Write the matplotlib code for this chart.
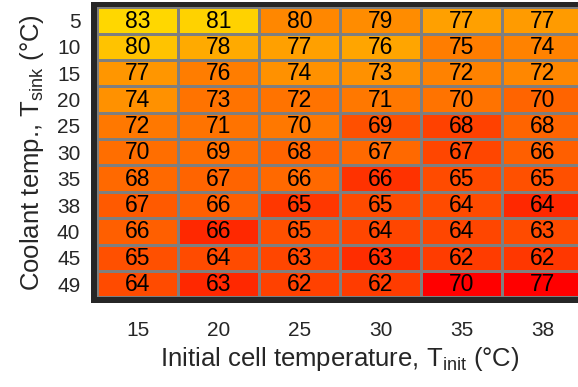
import numpy as np
import matplotlib
matplotlib.use("Agg")
import matplotlib.pyplot as plt

# Axis categories
t_init = ["15", "20", "25", "30", "35", "38"]
t_sink = ["5", "10", "15", "20", "25", "30", "35", "38", "40", "45", "49"]

# Numbers printed in the cells
cell_values = [
    [83, 81, 80, 79, 77, 77],
    [80, 78, 77, 76, 75, 74],
    [77, 76, 74, 73, 72, 72],
    [74, 73, 72, 71, 70, 70],
    [72, 71, 70, 69, 68, 68],
    [70, 69, 68, 67, 67, 66],
    [68, 67, 66, 66, 65, 65],
    [67, 66, 65, 65, 64, 64],
    [66, 66, 65, 64, 64, 63],
    [65, 64, 63, 63, 62, 62],
    [64, 63, 62, 62, 70, 77],
]

# Colour level of each cell (autumn colormap, 0 = red, 255 = yellow)
shade = [
    [215, 210, 135, 140, 160, 155],
    [195, 170, 160, 165, 125, 130],
    [150, 125, 145, 145, 130, 135],
    [145, 115, 115, 120, 115, 100],
    [120, 115, 120,  80,  65, 100],
    [110, 110, 100, 105,  70,  95],
    [105, 100, 105,  50,  75,  80],
    [ 90,  95,  55,  75,  75,  40],
    [ 95,  40,  80,  70,  70,  75],
    [ 80,  75,  70,  45,  60,  55],
    [ 75,  40,  65,  60,   0,   0],
]

plt.rcParams["font.family"] = ["Liberation Sans", "DejaVu Sans"]
plt.rcParams["mathtext.fontset"] = "custom"
plt.rcParams["mathtext.rm"] = "Liberation Sans"
plt.rcParams["mathtext.it"] = "Liberation Sans:italic"

W, H = 578, 387
fig = plt.figure(figsize=(W / 100, H / 100), dpi=100)

# dark frame behind the heatmap
frame = fig.add_axes([91 / W, (H - 303) / H, (620 - 91) / W, (303 - 2) / H])
frame.set_facecolor("#262626")
frame.set_xticks([])
frame.set_yticks([])
for sp in frame.spines.values():
    sp.set_visible(False)

ax = fig.add_axes([97 / W, (H - 297.3) / H, 486 / W, 290 / H])
data = np.array(shade) / 255.0
ax.pcolormesh(data, cmap="autumn", vmin=0, vmax=1,
              edgecolors="#7f7f7f", linewidth=0.8)
ax.set_xlim(0, len(t_init))
ax.set_ylim(len(t_sink), 0)

for i, row in enumerate(cell_values):
    for j, v in enumerate(row):
        ax.text(j + 0.5, i + 0.52, str(v), ha="center", va="center",
                fontsize=16.5, color="black")

for sp in ax.spines.values():
    sp.set_visible(False)

ax.set_xticks(np.arange(len(t_init)) + 0.5)
ax.set_xticklabels(t_init)
ax.set_yticks(np.arange(len(t_sink)) + 0.5)
ax.set_yticklabels(t_sink)
ax.tick_params(axis="both", length=0, labelsize=15, labelcolor="#262626")
ax.tick_params(axis="x", pad=17)
ax.tick_params(axis="y", pad=12)

ax.set_xlabel("Initial cell temperature, T$_{\\mathrm{init}}$ (°C)",
              fontsize=18.5, color="#262626", labelpad=4)
ax.set_ylabel("Coolant temp., T$_{\\mathrm{sink}}$ (°C)",
              fontsize=18.5, color="#262626", labelpad=8)

fig.savefig("out.png", dpi=100)
